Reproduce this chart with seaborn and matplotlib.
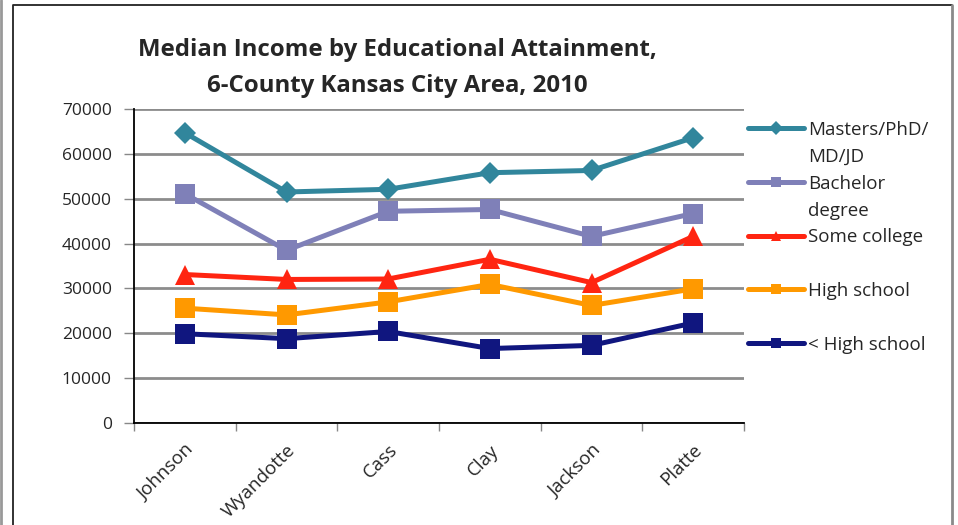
import pandas as pd
import matplotlib.pyplot as plt
import seaborn as sns
from matplotlib.lines import Line2D

# data
counties = ["Johnson", "Wyandotte", "Cass", "Clay", "Jackson", "Platte"]
levels = ["Masters/PhD/\nMD/JD", "Bachelor\ndegree", "Some college", "High school", "< High school"]
masters = [64700, 51500, 52100, 55800, 56300, 63600]
bachelor = [51100, 38500, 47200, 47600, 41600, 46700]
some_college = [33100, 32000, 32100, 36500, 31300, 41600]
high_school = [25600, 24100, 27000, 30900, 26200, 29900]
less_hs = [19900, 18800, 20400, 16600, 17300, 22300]
yticks = [0, 10000, 20000, 30000, 40000, 50000, 60000, 70000]

colors = ["#31869C", "#7F80B8", "#FF2511", "#FF9900", "#10167F"]
markers = ["D", "s", "^", "s", "s"]
msizes = [11, 14, 14, 14, 14]

df = pd.DataFrame({
    "county": counties * 5,
    "income": masters + bachelor + some_college + high_school + less_hs,
    "level": [lv for lv in levels for _ in counties],
})

sns.set_theme(style="white")
plt.rcParams['font.family'] = ['Open Sans', 'DejaVu Sans']

fig = plt.figure(figsize=(9.58, 5.25), dpi=100)
ax = fig.add_axes([134 / 958, 1 - 423 / 525, (744 - 134) / 958, (423 - 109) / 525])

for lv, col, mk, ms in zip(levels, colors, markers, msizes):
    sub = df[df["level"] == lv]
    sns.lineplot(data=sub, x="county", y="income", color=col, marker=mk,
                 markersize=ms, markeredgewidth=0, linewidth=3.6, label=lv,
                 ax=ax, zorder=3)

ax.set_xlim(-0.5, 5.5)
ax.set_ylim(0, 70000)
ax.set_yticks(yticks)
ax.set_yticklabels([str(v) for v in yticks], fontsize=12.5)
ax.set_xticks([i - 0.5 for i in range(7)])
ax.set_xticklabels([])
ax.set_xticks(range(6), minor=True)
ax.set_xticklabels(counties, minor=True, rotation=45, ha="right",
                   rotation_mode="anchor", fontsize=13.5)
ax.tick_params(axis="x", which="minor", length=0, pad=13)
ax.tick_params(axis="x", which="major", length=6, color="#888888", width=1, direction="out", bottom=True)
ax.tick_params(axis="y", length=7, color="#888888", width=1, direction="out", left=True, pad=9)
ax.set_xlabel("")
ax.set_ylabel("")
ax.grid(axis="y", color="#8c8c8c", linewidth=2)
ax.set_axisbelow(True)
for s in ["top", "right"]:
    ax.spines[s].set_visible(False)
ax.spines["left"].set_color("black")
ax.spines["bottom"].set_color("black")
ax.spines["left"].set_linewidth(1.3)
ax.spines["bottom"].set_linewidth(1.3)
ax.get_legend().remove()

fig.suptitle("Median Income by Educational Attainment,\n6-County Kansas City Area, 2010",
             x=397 / 958, y=1 - 38 / 525, fontsize=17.3, fontweight="bold",
             linespacing=1.67, va="top")

# legend: handle sits on the first line of each label
handles, labels = ax.get_legend_handles_labels()
first = [l.split("\n")[0] for l in labels]
leg = fig.legend(handles, first, loc="upper left", bbox_to_anchor=(748 / 958, 1 - 121 / 525),
                 frameon=False, fontsize=13.5, handlelength=3.0, handletextpad=0.2,
                 labelspacing=1.9, borderaxespad=0, borderpad=0)
for h in leg.legend_handles:
    h.set_markersize(7)
    h.set_linewidth(3.6)
fig.canvas.draw()
inv = fig.transFigure.inverted()
for txt, full in zip(leg.get_texts(), labels):
    parts = full.split("\n")
    if len(parts) > 1:
        bb = txt.get_window_extent()
        x0, y0 = inv.transform((bb.x0, bb.y0 - 27))
        fig.text(x0, y0, parts[1], fontsize=13.5, ha="left", va="bottom")

# chart frame like the spreadsheet export
fig.add_artist(Line2D([1 / 958, 1 / 958], [0, 1], color="#999999", linewidth=2))
fig.add_artist(Line2D([13 / 958, 13 / 958, 952 / 958], [0, 1 - 5 / 525, 1 - 5 / 525], color="#222222", linewidth=1.3))
fig.add_artist(Line2D([952 / 958, 952 / 958], [1 - 5 / 525, 0], color="#8a8a8a", linewidth=2))

fig.savefig("out.png", dpi=100)
